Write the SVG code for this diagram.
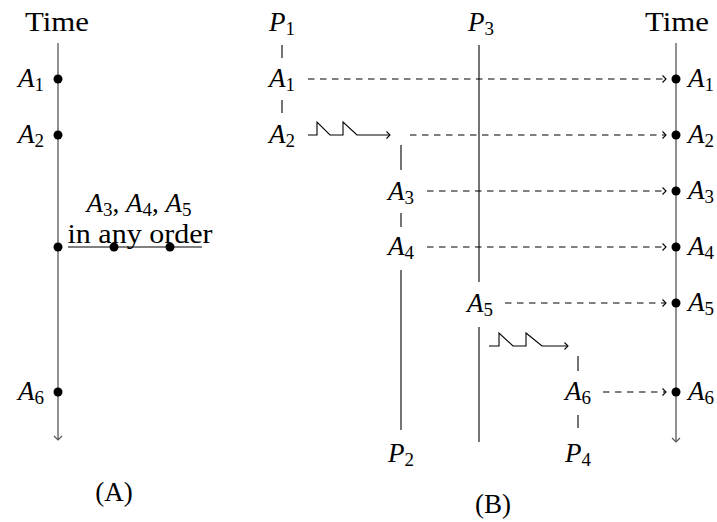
<svg xmlns="http://www.w3.org/2000/svg" width="717" height="522" viewBox="0 0 717 522">
<style>
.tl { stroke: #555; stroke-width: 1.3; fill: none; }
.ln { stroke: #000; stroke-width: 1.1; fill: none; }
.da { stroke: #000; stroke-width: 1.1; fill: none; stroke-dasharray: 6.5 5.5; }
.dot { fill: #000; }
</style>
<defs>
<marker id="ah" markerWidth="10" markerHeight="10" refX="0" refY="0" viewBox="-6 -5 8 10" markerUnits="userSpaceOnUse" orient="auto" overflow="visible">
<path d="M-3.5,-3.5 L0,0 L-3.5,3.5" fill="none" stroke="#000" stroke-width="1.1"/>
</marker>
<marker id="ahg" markerWidth="10" markerHeight="10" refX="0" refY="0" viewBox="-6 -5 8 10" markerUnits="userSpaceOnUse" orient="auto" overflow="visible">
<path d="M-4,-4 L0,0 L-4,4" fill="none" stroke="#555" stroke-width="1.2"/>
</marker>
</defs>

<!-- Panel A -->
<g id="timeA">
<text x="57" y="31" font-family="Liberation Serif" font-size="27" text-anchor="middle" textLength="64" lengthAdjust="spacingAndGlyphs">Time</text>
<line x1="58" y1="43" x2="58" y2="440" class="tl" marker-end="url(#ahg)"/>
</g>
<g id="a-A1"><circle cx="58" cy="79" r="4.5" class="dot"/><text x="44" y="87" font-family="Liberation Serif" font-size="27" text-anchor="end" font-style="italic">A<tspan font-style="normal" font-size="19" dy="4">1</tspan></text></g>
<g id="a-A2"><circle cx="58" cy="135" r="4.5" class="dot"/><text x="44" y="143" font-family="Liberation Serif" font-size="27" text-anchor="end" font-style="italic">A<tspan font-style="normal" font-size="19" dy="4">2</tspan></text></g>
<g id="a-A345">
<line x1="68" y1="247" x2="202" y2="247" class="tl"/>
<circle cx="58" cy="247" r="4.5" class="dot"/>
<circle cx="114" cy="247" r="4.5" class="dot"/>
<circle cx="170" cy="247" r="4.5" class="dot"/>
<text x="139" y="212" font-family="Liberation Serif" font-size="27" text-anchor="middle"><tspan font-style="italic">A</tspan><tspan font-size="19" dy="4">3</tspan><tspan dy="-4">, </tspan><tspan font-style="italic">A</tspan><tspan font-size="19" dy="4">4</tspan><tspan dy="-4">, </tspan><tspan font-style="italic">A</tspan><tspan font-size="19" dy="4">5</tspan></text>
<text x="140" y="243" font-family="Liberation Serif" font-size="27" text-anchor="middle" textLength="145" lengthAdjust="spacingAndGlyphs">in any order</text>
</g>
<g id="a-A6"><circle cx="58" cy="392" r="4.5" class="dot"/><text x="44" y="400" font-family="Liberation Serif" font-size="27" text-anchor="end" font-style="italic">A<tspan font-style="normal" font-size="19" dy="4">6</tspan></text></g>
<g id="labelA"><text x="114" y="501" font-family="Liberation Serif" font-size="27" text-anchor="middle">(A)</text></g>

<!-- Panel B -->
<g id="P1">
<text x="282" y="31" font-family="Liberation Serif" font-size="27" text-anchor="middle" font-style="italic">P<tspan font-style="normal" font-size="19" dy="4">1</tspan></text>
<line x1="282" y1="45" x2="282" y2="58" class="ln"/>
<text x="282" y="87" font-family="Liberation Serif" font-size="27" text-anchor="middle" font-style="italic">A<tspan font-style="normal" font-size="19" dy="4">1</tspan></text>
<line x1="282" y1="100" x2="282" y2="113" class="ln"/>
<text x="282" y="143" font-family="Liberation Serif" font-size="27" text-anchor="middle" font-style="italic">A<tspan font-style="normal" font-size="19" dy="4">2</tspan></text>
</g>
<g id="P2">
<line x1="401" y1="145" x2="401" y2="170" class="ln"/>
<text x="401" y="200" font-family="Liberation Serif" font-size="27" text-anchor="middle" font-style="italic">A<tspan font-style="normal" font-size="19" dy="4">3</tspan></text>
<line x1="401" y1="213" x2="401" y2="227" class="ln"/>
<text x="401" y="255" font-family="Liberation Serif" font-size="27" text-anchor="middle" font-style="italic">A<tspan font-style="normal" font-size="19" dy="4">4</tspan></text>
<line x1="401" y1="270" x2="401" y2="430" class="ln"/>
<text x="401" y="462" font-family="Liberation Serif" font-size="27" text-anchor="middle" font-style="italic">P<tspan font-style="normal" font-size="19" dy="4">2</tspan></text>
</g>
<g id="P3">
<text x="481" y="31" font-family="Liberation Serif" font-size="27" text-anchor="middle" font-style="italic">P<tspan font-style="normal" font-size="19" dy="4">3</tspan></text>
<line x1="479" y1="45" x2="479" y2="282" class="ln"/>
<text x="480" y="312" font-family="Liberation Serif" font-size="27" text-anchor="middle" font-style="italic">A<tspan font-style="normal" font-size="19" dy="4">5</tspan></text>
<line x1="479" y1="327" x2="479" y2="442" class="ln"/>
</g>
<g id="P4">
<line x1="578" y1="356" x2="578" y2="371" class="ln"/>
<text x="578" y="400" font-family="Liberation Serif" font-size="27" text-anchor="middle" font-style="italic">A<tspan font-style="normal" font-size="19" dy="4">6</tspan></text>
<line x1="578" y1="415" x2="578" y2="428" class="ln"/>
<text x="578" y="462" font-family="Liberation Serif" font-size="27" text-anchor="middle" font-style="italic">P<tspan font-style="normal" font-size="19" dy="4">4</tspan></text>
</g>
<g id="timeB">
<text x="677" y="31" font-family="Liberation Serif" font-size="27" text-anchor="middle" textLength="64" lengthAdjust="spacingAndGlyphs">Time</text>
<line x1="676" y1="43" x2="676" y2="442" class="tl" marker-end="url(#ahg)"/>
<circle cx="676" cy="79" r="4.5" class="dot"/><text x="688" y="87" font-family="Liberation Serif" font-size="27" font-style="italic">A<tspan font-style="normal" font-size="19" dy="4">1</tspan></text>
<circle cx="676" cy="135" r="4.5" class="dot"/><text x="688" y="143" font-family="Liberation Serif" font-size="27" font-style="italic">A<tspan font-style="normal" font-size="19" dy="4">2</tspan></text>
<circle cx="676" cy="191" r="4.5" class="dot"/><text x="688" y="199" font-family="Liberation Serif" font-size="27" font-style="italic">A<tspan font-style="normal" font-size="19" dy="4">3</tspan></text>
<circle cx="676" cy="247" r="4.5" class="dot"/><text x="688" y="255" font-family="Liberation Serif" font-size="27" font-style="italic">A<tspan font-style="normal" font-size="19" dy="4">4</tspan></text>
<circle cx="676" cy="303" r="4.5" class="dot"/><text x="688" y="311" font-family="Liberation Serif" font-size="27" font-style="italic">A<tspan font-style="normal" font-size="19" dy="4">5</tspan></text>
<circle cx="676" cy="392" r="4.5" class="dot"/><text x="688" y="400" font-family="Liberation Serif" font-size="27" font-style="italic">A<tspan font-style="normal" font-size="19" dy="4">6</tspan></text>
</g>
<g id="labelB"><text x="493" y="513" font-family="Liberation Serif" font-size="27" text-anchor="middle">(B)</text></g>

<g id="connectors">
<path d="M308,135 H317 V122 L330,135 H343 V122 L357,135 H390" class="ln" marker-end="url(#ah)"/>
<path d="M489,346 H499 V333 L513,346 H526 V333 L542,346 H568" class="ln" marker-end="url(#ah)"/>
<line x1="308" y1="79" x2="666" y2="79" class="da" marker-end="url(#ah)"/>
<line x1="410" y1="135" x2="666" y2="135" class="da" marker-end="url(#ah)"/>
<line x1="427" y1="191" x2="666" y2="191" class="da" marker-end="url(#ah)"/>
<line x1="427" y1="247" x2="666" y2="247" class="da" marker-end="url(#ah)"/>
<line x1="505" y1="303" x2="666" y2="303" class="da" marker-end="url(#ah)"/>
<line x1="603" y1="392" x2="666" y2="392" class="da" marker-end="url(#ah)"/>
</g>
</svg>
